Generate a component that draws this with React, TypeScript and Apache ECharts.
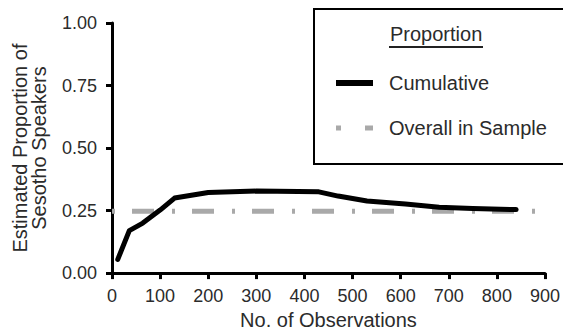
import React, { useEffect, useRef } from "react";
import * as echarts from "echarts";

// Cumulative estimate of the proportion of Sesotho speakers as observations accrue
const observations = [12, 36, 64, 100, 130, 200, 300, 430, 470, 530, 610, 680, 750, 840];
const cumulativeProportion = [
  0.055, 0.17, 0.2, 0.252, 0.3, 0.322, 0.328, 0.325, 0.308, 0.288, 0.276, 0.263, 0.258, 0.254,
];

// Proportion observed over the whole sample, drawn across the full x range
const overallRange = [0, 900];
const overallProportion = 0.247;

const xTicks = { min: 0, max: 900, interval: 100 };
const yTicks = { min: 0, max: 1, interval: 0.25 };

const seriesNames = ["Cumulative", "Overall in Sample"];
const legendTitle = "Proportion";
const xAxisName = "No. of Observations";
const yAxisName = "Estimated Proportion of\nSesotho Speakers";

const FONT = "Liberation Sans, Arial, Helvetica, sans-serif";
const TEXT = "#2b2b2b";
const GREY = "#a9a9a9";

export default function App() {
  const ref = useRef<HTMLDivElement>(null);

  useEffect(() => {
    if (!ref.current) return;
    const chart = echarts.init(ref.current, undefined, { renderer: "svg" });

    const axisCommon = {
      axisLine: { show: true, lineStyle: { color: "#000", width: 3 } },
      axisTick: { show: true, inside: false, length: 6, lineStyle: { color: "#000", width: 3 } },
      splitLine: { show: false },
    };

    // legend swatches show only the line sample, no marker
    const noMarker = { color: "rgba(0,0,0,0)", borderWidth: 0, opacity: 0 };

    chart.setOption({
      animation: false,
      backgroundColor: "#fff",
      grid: { left: 112, top: 23, width: 433, height: 255, containLabel: false },
      xAxis: {
        type: "value",
        ...xTicks,
        ...axisCommon,
        name: xAxisName,
        nameLocation: "middle",
        nameGap: 31,
        nameTextStyle: { fontFamily: FONT, fontSize: 20, color: TEXT },
        axisLabel: { fontFamily: FONT, fontSize: 18, color: TEXT, margin: 14 },
      },
      yAxis: {
        type: "value",
        ...yTicks,
        ...axisCommon,
        name: yAxisName,
        nameLocation: "middle",
        nameGap: 64,
        nameTextStyle: { fontFamily: FONT, fontSize: 20, color: TEXT, lineHeight: 19 },
        axisLabel: {
          fontFamily: FONT,
          fontSize: 18,
          color: TEXT,
          margin: 15,
          formatter: (v: number) => v.toFixed(2),
        },
      },
      legend: {
        show: true,
        orient: "vertical",
        left: 314,
        top: 9,
        padding: [64, 25, 26, 19],
        itemGap: 25,
        itemWidth: 37,
        itemHeight: 14,
        borderColor: "#000",
        borderWidth: 2,
        backgroundColor: "#fff",
        textStyle: { fontFamily: FONT, fontSize: 20, color: TEXT, padding: [0, 0, 0, 11] },
        itemStyle: noMarker,
        data: [
          {
            name: seriesNames[0],
            itemStyle: noMarker,
            lineStyle: { color: "#000", width: 6, type: "solid", cap: "butt" },
          },
          {
            name: seriesNames[1],
            itemStyle: noMarker,
            lineStyle: { color: GREY, width: 5, type: [5, 24, 8, 20], cap: "butt" },
          },
        ],
      },
      graphic: [
        {
          type: "text",
          left: 437 - 47,
          top: 24,
          style: { text: legendTitle, fontFamily: FONT, fontSize: 20, fill: TEXT },
          z: 100,
        },
        {
          type: "line",
          shape: { x1: 389, y1: 47, x2: 483, y2: 47 },
          style: { stroke: "#222", lineWidth: 2 },
          z: 100,
        },
      ],
      series: [
        {
          name: seriesNames[1],
          type: "line",
          symbol: "none",
          data: overallRange.map((x) => [x, overallProportion]),
          lineStyle: { color: GREY, width: 5, type: [3, 17, 22, 18], cap: "butt" },
          z: 2,
        },
        {
          name: seriesNames[0],
          type: "line",
          symbol: "none",
          data: observations.map((x, i) => [x, cumulativeProportion[i]]),
          lineStyle: { color: "#000", width: 5, join: "round", cap: "round" },
          z: 3,
        },
      ],
    });

    return () => chart.dispose();
  }, []);

  return (
    <div
      ref={ref}
      style={{ position: "fixed", left: 0, top: 0, width: 563, height: 335, background: "#fff" }}
    />
  );
}
